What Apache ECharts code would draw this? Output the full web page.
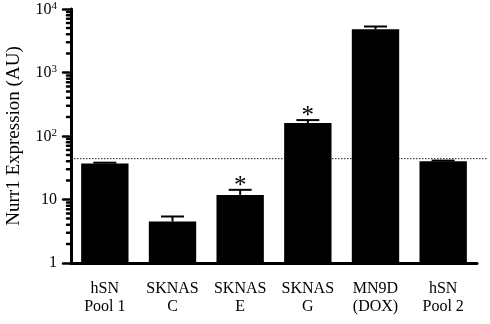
<!DOCTYPE html>
<html>
<head>
<meta charset="utf-8">
<script src="https://cdn.jsdelivr.net/npm/echarts@6/dist/echarts.min.js"></script>
<style>
html, body { margin: 0; padding: 0; background: #fff; }
#chart { width: 490px; height: 324px; }
</style>
</head>
<body>
<div id="chart"></div>
<script>
var categories = ['hSN\nPool 1', 'SKNAS\nC', 'SKNAS\nE', 'SKNAS\nG', 'MN9D\n(DOX)', 'hSN\nPool 2'];
var means = [37, 4.5, 11.8, 160, 4800, 40];
var upper = [38, 5.4, 14.2, 178, 5300, 41];
var significant = [false, false, true, true, false, false];
var threshold = 44;
var decades = [1, 10, 100, 1000];
var minorSteps = [2, 3, 4, 5, 6, 7, 8, 9];

var FONT = '"Liberation Serif", "DejaVu Serif", serif';

var myChart = echarts.init(document.getElementById('chart'));

var errData = means.map(function (m, i) { return [i, m, upper[i], significant[i] ? 1 : 0]; });

var minorTicks = [];
decades.forEach(function (d) {
    minorSteps.forEach(function (s) { minorTicks.push([0, d * s]); });
});

var supMap = { 10000: '4', 1000: '3', 100: '2' };

var option = {
    animation: false,
    backgroundColor: '#fff',
    grid: { left: 71, right: 13, top: 9, bottom: 61, outerBoundsMode: 'none', containLabel: false },
    xAxis: {
        type: 'category',
        data: categories,
        axisLine: { lineStyle: { color: '#000', width: 3 } },
        axisTick: { alignWithLabel: true, length: 5, lineStyle: { color: '#000', width: 3, cap: 'round' } },
        axisLabel: { color: '#000', fontFamily: FONT, fontSize: 16, lineHeight: 18, margin: 17, interval: 0 }
    },
    yAxis: {
        type: 'log',
        logBase: 10,
        min: 1,
        max: 10000,
        name: 'Nurr1 Expression (AU)',
        nameLocation: 'middle',
        nameGap: 47,
        nameTextStyle: { color: '#000', fontFamily: FONT, fontSize: 19 },
        axisLine: { show: true, lineStyle: { color: '#000', width: 3 } },
        axisTick: { show: true, length: 8, lineStyle: { color: '#000', width: 2.5, cap: 'round' } },
        splitLine: { show: false },
        axisLabel: {
            color: '#000', fontFamily: FONT, fontSize: 16, margin: 14,
            formatter: function (v) {
                if (supMap[v]) return '{b|10}{s|' + supMap[v] + '}';
                return '{b|' + v + '}';
            },
            rich: {
                b: { fontFamily: FONT, fontSize: 16, color: '#000', verticalAlign: 'bottom' },
                s: { fontFamily: FONT, fontSize: 11, color: '#000', verticalAlign: 'top', padding: [0, 0, 6, 0] }
            }
        }
    },
    series: [
        {
            type: 'bar',
            data: means,
            barWidth: '70%',
            itemStyle: { color: '#000' }
        },
        {
            type: 'custom',
            data: [[0, threshold]],
            clip: false,
            silent: true,
            z: 1,
            renderItem: function (params, api) {
                var p = api.coord([0, api.value(1)]);
                var cs = params.coordSys;
                return {
                    type: 'line',
                    shape: { x1: cs.x, y1: p[1], x2: cs.x + cs.width + 10, y2: p[1] },
                    style: { stroke: '#222', lineWidth: 1, lineDash: [1.5, 1.5] }
                };
            }
        },
        {
            type: 'custom',
            data: errData,
            z: 5,
            renderItem: function (params, api) {
                var base = api.coord([api.value(0), api.value(1)]);
                var top = api.coord([api.value(0), api.value(2)]);
                var half = api.size([1, 0])[0] * 0.17;
                var style = { stroke: '#000', lineWidth: 2 };
                var children = [
                    { type: 'line', shape: { x1: base[0], y1: base[1], x2: top[0], y2: top[1] }, style: style },
                    { type: 'line', shape: { x1: top[0] - half, y1: top[1], x2: top[0] + half, y2: top[1] }, style: style }
                ];
                if (api.value(3)) {
                    children.push({
                        type: 'text',
                        style: {
                            text: '*', x: top[0], y: top[1] + 9,
                            align: 'center', verticalAlign: 'bottom',
                            fontFamily: FONT, fontSize: 25, fill: '#000'
                        }
                    });
                }
                return { type: 'group', children: children };
            }
        },
        {
            type: 'custom',
            data: minorTicks,
            clip: false,
            silent: true,
            renderItem: function (params, api) {
                var p = api.coord([0, api.value(1)]);
                var x = params.coordSys.x;
                return {
                    type: 'line',
                    shape: { x1: x - 4, y1: p[1], x2: x, y2: p[1] },
                    style: { stroke: '#000', lineWidth: 2.5, lineCap: 'round' }
                };
            }
        }
    ]
};

myChart.setOption(option);
</script>
</body>
</html>
